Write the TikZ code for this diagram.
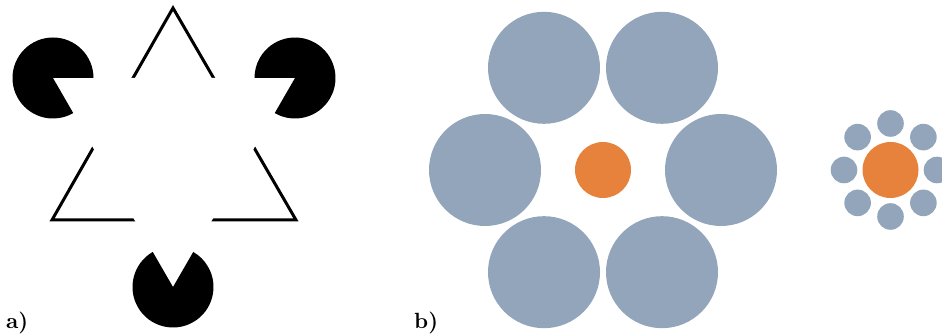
\documentclass[tikz,border=0pt]{standalone}
\usepackage{fontspec}
\usepackage{graphicx}
\usepackage{xcolor}
\definecolor{greyblue}{HTML}{93A5BB}
\definecolor{orng}{HTML}{E6823B}
\begin{document}
\begin{tikzpicture}[x=1pt,y=1pt,
  pac/.style={fill=black},
  outline/.style={draw=black,line width=3pt,miter limit=10},
  big/.style={fill=greyblue},
  ctr/.style={fill=orng},
  lab/.style={inner sep=0pt,anchor=base west,font=\bfseries}]
\useasboundingbox (0,0) rectangle (942,336);
\clip (0,0) rectangle (942,336);
% Kanizsa triangle
\coordinate (apex) at (173,328);
\coordinate (bl) at (52,116);
\coordinate (br) at (296,116);
\draw[outline] (apex) -- (bl) -- (br) -- cycle;
\coordinate (p1) at (53,258);
\coordinate (p2) at (295,258);
\coordinate (p3) at (173,49);
\fill[white] (p1) -- (p2) -- (p3) -- cycle;
\fill[pac] (p1) -- ++(0:40.5) arc[start angle=0,end angle=300,radius=40.5] -- cycle;
\fill[pac] (p2) -- ++(240:40.5) arc[start angle=240,end angle=540,radius=40.5] -- cycle;
\fill[pac] (p3) -- ++(120:40.5) arc[start angle=120,end angle=420,radius=40.5] -- cycle;
% Ebbinghaus left
\coordinate (e1) at (603,166);
\foreach \a in {0,60,...,300} \fill[big] (e1) ++(\a:118) circle[radius=56];
\fill[ctr] (e1) circle[radius=28];
% Ebbinghaus right
\coordinate (e2) at (890.5,166);
\foreach \a in {0,45,...,315} \fill[big] (e2) ++(\a:46.5) circle[radius=13.3];
\fill[ctr] (e2) circle[radius=28];
% labels
\node[lab] (la) at (6,7) {\scalebox{2.2}{a)}};
\node[lab] (lb) at (414,7) {\scalebox{2.2}{b)}};
\end{tikzpicture}
\end{document}
